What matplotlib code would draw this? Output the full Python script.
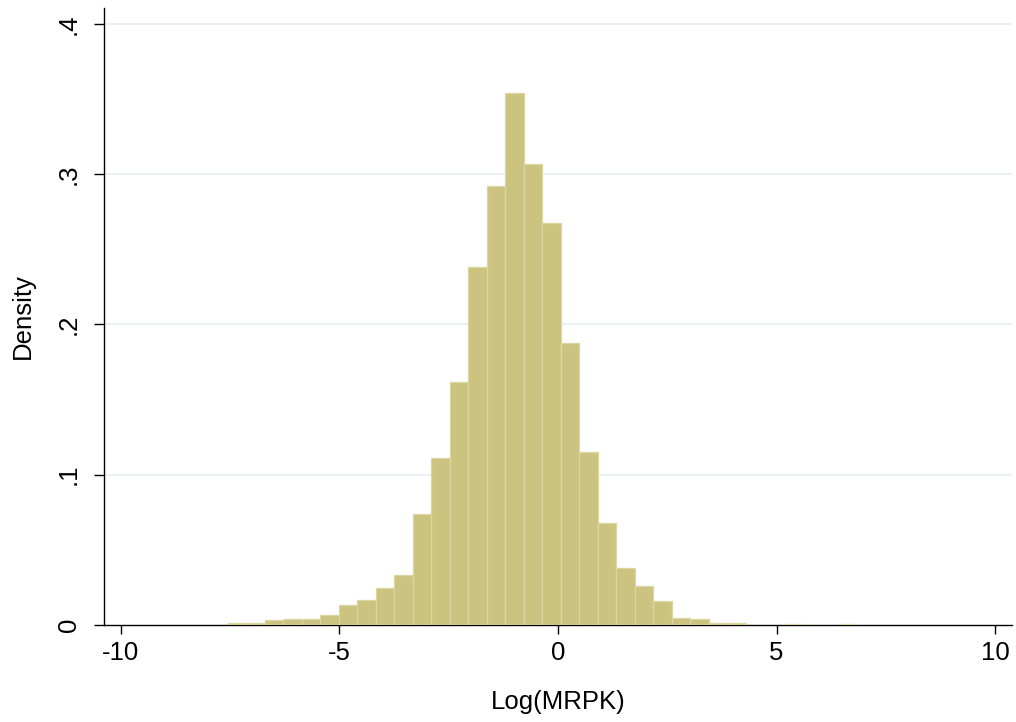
import matplotlib
matplotlib.use("Agg")
import matplotlib.pyplot as plt
import numpy as np

# Histogram data
bin_start = -7.56
bin_width = 0.4236
densities = [0.0013, 0.0015, 0.0031, 0.0038, 0.0038, 0.0069, 0.0131, 0.0169,
             0.0249, 0.0333, 0.0739, 0.1111, 0.1615, 0.2380, 0.2919, 0.3538,
             0.3070, 0.2673, 0.1879, 0.1149, 0.0681, 0.0381, 0.0260, 0.0157,
             0.0047, 0.0040, 0.0011, 0.0011, 0.0, 0.0, 0.0010, 0.0, 0.0, 0.0010]
x_ticks = [-10, -5, 0, 5, 10]
x_ticklabels = ["-10", "-5", "0", "5", "10"]
y_ticks = [0, 0.1, 0.2, 0.3, 0.4]
y_ticklabels = ["0", ".1", ".2", ".3", ".4"]
x_label = "Log(MRPK)"
y_label = "Density"

plt.rcParams['font.family'] = ['Liberation Sans', 'DejaVu Sans']

fig = plt.figure(figsize=(10.16, 7.22), dpi=100)
ax = fig.add_axes([0.1027, 0.1343, 0.8931, 0.855])

lefts = bin_start + bin_width * np.arange(len(densities))
ax.bar(lefts, densities, width=bin_width, align='edge',
       color='#CBC37F', edgecolor='#DCD6A3', linewidth=0.9, zorder=3)

ax.set_xlim(-10.38, 10.38)
ax.set_ylim(0, 0.4107)

for y in y_ticks[1:]:
    ax.axhline(y, color='#E3EDF1', linewidth=1.1, zorder=1)

ax.set_xticks(x_ticks)
ax.set_xticklabels(x_ticklabels, fontsize=18.5)
ax.set_yticks(y_ticks)
ax.set_yticklabels(y_ticklabels, fontsize=18.5, rotation=90, va='center')

ax.tick_params(axis='x', direction='out', length=6.5, width=1.0, pad=5, color='black')
ax.tick_params(axis='y', direction='out', length=7, width=1.0, pad=10, color='black')

for s in ['top', 'right']:
    ax.spines[s].set_visible(False)
for s in ['left', 'bottom']:
    ax.spines[s].set_linewidth(1.0)
    ax.spines[s].set_color('black')

ax.set_xlabel(x_label, fontsize=18.5, labelpad=18)
ax.set_ylabel(y_label, fontsize=18.5, labelpad=16)

fig.savefig("out.png", dpi=100, facecolor='white')
